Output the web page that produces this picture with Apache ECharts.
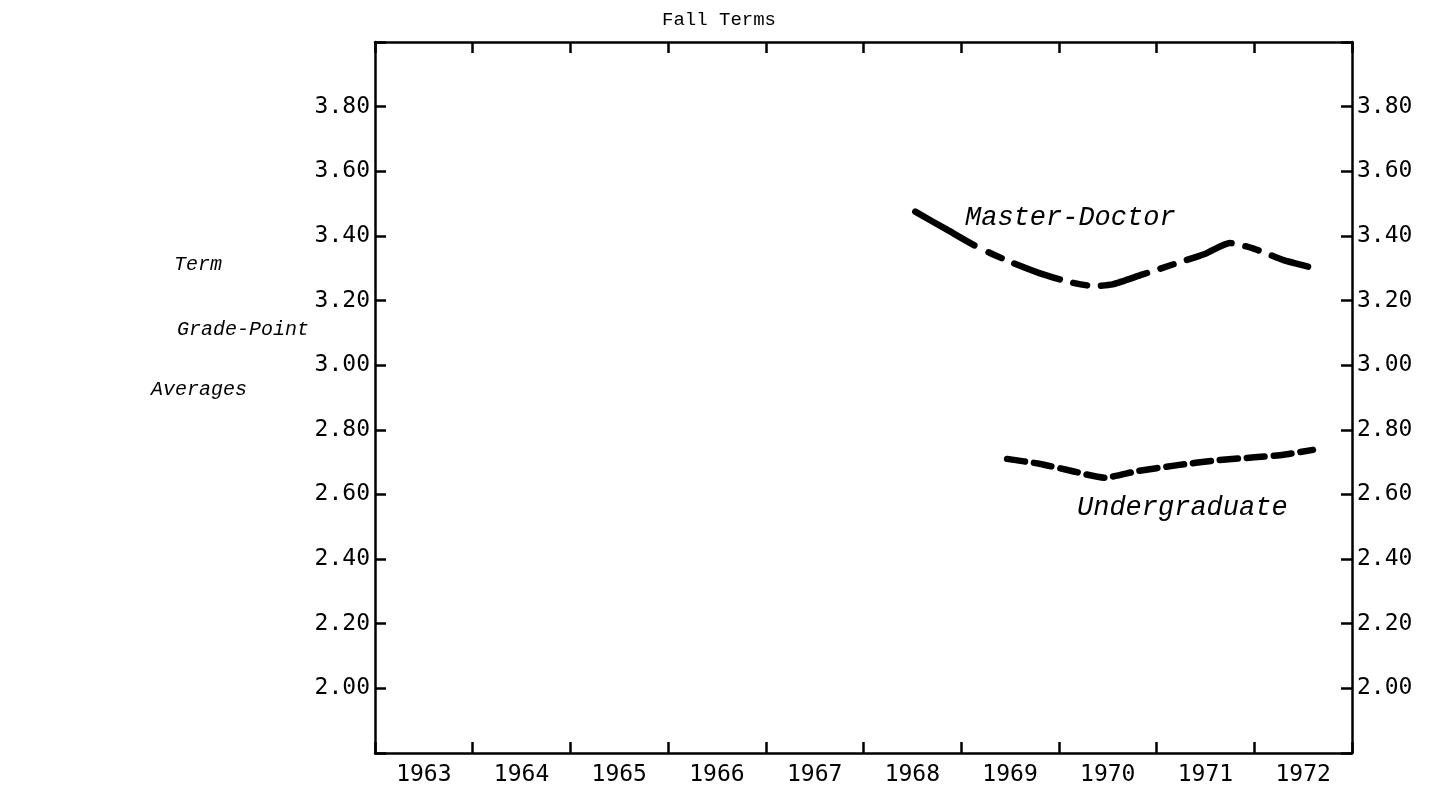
<!DOCTYPE html>
<html>
<head>
<meta charset="utf-8">
<script src="https://cdn.jsdelivr.net/npm/echarts@6/dist/echarts.min.js"></script>
<style>
html,body{margin:0;padding:0;background:#fff;}
#chart{width:1429px;height:787px;}
</style>
</head>
<body>
<div id="chart"></div>
<script>
// Categories (Fall terms)
var years = ['1963','1964','1965','1966','1967','1968','1969','1970','1971','1972'];
// Y tick labels shown
var yTickLabels = ['2.00','2.20','2.40','2.60','2.80','3.00','3.20','3.40','3.60','3.80'];
// Master-Doctor curve: x in years (fractional position), y GPA
var masterX = [1968.03,1968.35,1968.67,1969.0,1969.3,1969.6,1969.85,1970.05,1970.35,1970.65,1971.0,1971.25,1971.5,1971.8,1972.05];
var masterY = [3.475,3.42,3.365,3.32,3.285,3.258,3.245,3.25,3.28,3.31,3.345,3.378,3.36,3.325,3.305];
// Undergraduate curve
var underX = [1968.97,1969.3,1969.6,1969.97,1970.3,1970.7,1971.1,1971.5,1971.8,1972.1];
var underY = [2.71,2.695,2.675,2.652,2.672,2.69,2.705,2.715,2.723,2.738];

function pairs(xs, ys){ return xs.map(function(x,i){ return [x, ys[i]]; }); }

var chart = echarts.init(document.getElementById('chart'));
var numFont = 'DejaVu Sans Mono';
var axisLine = {show:true, lineStyle:{color:'#000', width:2.5}};
var catTick = {show:true, inside:true, length:11, lineStyle:{color:'#000', width:2.5}};

function yLabel(v){
  var s = v.toFixed(2);
  return yTickLabels.indexOf(s) >= 0 ? s : '';
}

var option = {
  backgroundColor:'#fff',
  animation:false,
  grid:{left:375, right:77, top:42, bottom:34, containLabel:false},
  xAxis:[
    {type:'category', position:'bottom', data:years, boundaryGap:true,
     axisLine:axisLine, axisTick:catTick,
     axisLabel:{color:'#000', fontFamily:numFont, fontSize:23, margin:11},
     splitLine:{show:false}},
    {type:'category', position:'top', data:years, boundaryGap:true,
     axisLine:axisLine, axisTick:catTick, axisLabel:{show:false}, splitLine:{show:false}},
    {type:'value', min:1962.5, max:1972.5, show:false}
  ],
  yAxis:[
    {type:'value', position:'left', min:1.8, max:4.0, interval:0.2,
     axisLine:axisLine, axisTick:{show:true, inside:true, length:11, lineStyle:{color:'#000', width:2.5}},
     axisLabel:{color:'#000', fontFamily:numFont, fontSize:23, margin:5, formatter:yLabel},
     splitLine:{show:false}},
    {type:'value', position:'right', min:1.8, max:4.0, interval:0.2,
     axisLine:axisLine, axisTick:{show:true, inside:true, length:11, lineStyle:{color:'#000', width:2.5}},
     axisLabel:{color:'#000', fontFamily:numFont, fontSize:23, margin:5, formatter:yLabel},
     splitLine:{show:false}}
  ],
  series:[
    {name:'Master-Doctor', type:'line', xAxisIndex:2, yAxisIndex:0, data:pairs(masterX, masterY),
     smooth:0.2, showSymbol:false, symbol:'none',
     lineStyle:{color:'#000', width:6.5, type:[68,16,14,14,48,14,14,14,48,14,14,14,48,14,14,14], cap:'round'}},
    {name:'Undergraduate', type:'line', xAxisIndex:2, yAxisIndex:0, data:pairs(underX, underY),
     smooth:0.2, showSymbol:false, symbol:'none',
     lineStyle:{color:'#000', width:6.5, type:[18,9], cap:'round'}}
  ],
  graphic:[
    {type:'text', left:662, top:10, style:{text:'Fall Terms', fontFamily:'Liberation Mono', fontSize:19, fill:'#000'}},
    {type:'text', left:965, top:204, style:{text:'Master-Doctor', fontFamily:'Liberation Mono', fontStyle:'italic', fontSize:27, fill:'#000'}},
    {type:'text', left:1077, top:494, style:{text:'Undergraduate', fontFamily:'Liberation Mono', fontStyle:'italic', fontSize:27, fill:'#000'}},
    {type:'text', left:174, top:255, style:{text:'Term', fontFamily:'Liberation Mono', fontStyle:'italic', fontSize:20, fill:'#000'}},
    {type:'text', left:177, top:320, style:{text:'Grade-Point', fontFamily:'Liberation Mono', fontStyle:'italic', fontSize:20, fill:'#000'}},
    {type:'text', left:151, top:380, style:{text:'Averages', fontFamily:'Liberation Mono', fontStyle:'italic', fontSize:20, fill:'#000'}}
  ]
};
chart.setOption(option);
</script>
</body>
</html>
